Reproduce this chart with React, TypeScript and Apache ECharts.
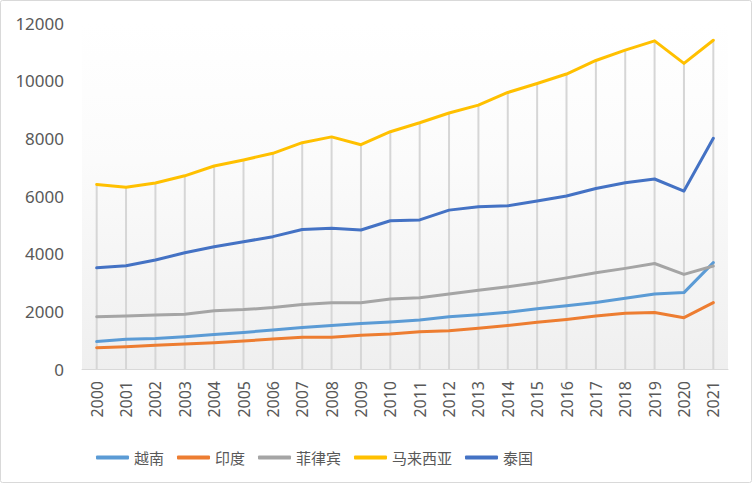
import React, { useEffect, useRef } from "react";
import * as echarts from "echarts";

const years = ["2000","2001","2002","2003","2004","2005","2006","2007","2008","2009","2010","2011","2012","2013","2014","2015","2016","2017","2018","2019","2020","2021"];
const vietnam = [950,1030,1060,1120,1200,1270,1350,1440,1510,1580,1630,1700,1810,1880,1970,2090,2190,2310,2450,2600,2650,3690];
const india = [740,770,820,870,910,970,1040,1100,1100,1170,1210,1290,1330,1410,1510,1620,1720,1840,1930,1960,1780,2300];
const philippines = [1810,1840,1870,1900,2020,2060,2130,2240,2300,2300,2430,2470,2600,2730,2850,2990,3160,3340,3490,3660,3280,3570];
const malaysia = [6400,6300,6450,6700,7040,7250,7480,7850,8050,7780,8230,8540,8880,9150,9590,9900,10230,10700,11060,11380,10600,11400];
const thailand = [3510,3580,3780,4030,4240,4410,4590,4840,4880,4820,5140,5170,5510,5630,5660,5830,6000,6260,6460,6590,6170,8000];

const names = ["越南", "印度", "菲律宾", "马来西亚", "泰国"];
const colors = ["#5B9BD5", "#ED7D31", "#A5A5A5", "#FFC000", "#4472C4"];
const seriesData = [vietnam, india, philippines, malaysia, thailand];

export default function App() {
  const ref = useRef<HTMLDivElement>(null);
  useEffect(() => {
    if (!ref.current) return;
    const chart = echarts.init(ref.current, null, { renderer: "svg" });
    const font = "'Noto Sans', 'Noto Sans CJK SC', sans-serif";
    chart.setOption({
      animation: false,
      backgroundColor: "#ffffff",
      graphic: [
        {
          type: "rect",
          shape: { x: 0.5, y: 0.5, width: 751, height: 482, r: 2 },
          style: { fill: "none", stroke: "#d9d9d9", lineWidth: 1 },
          silent: true,
        },
      ],
      grid: {
        left: 82,
        right: 24,
        top: 23,
        bottom: 114,
        show: true,
        borderWidth: 0,
        backgroundColor: {
          type: "linear",
          x: 0, y: 0, x2: 0, y2: 1,
          colorStops: [
            { offset: 0, color: "#ffffff" },
            { offset: 0.4, color: "#fbfbfb" },
            { offset: 1, color: "#efefef" },
          ],
        },
      },
      legend: {
        data: names.map((n) => ({ name: n, icon: "roundRect" })),
        left: 96,
        top: 450,
        padding: 0,
        itemWidth: 33,
        itemHeight: 4,
        itemGap: 13,
        textStyle: { color: "#595959", fontSize: 15, fontFamily: "'Noto Sans CJK SC', sans-serif" },
      },
      xAxis: {
        type: "category",
        data: years,
        boundaryGap: true,
        axisLine: { show: true, lineStyle: { color: "#d9d9d9", width: 1 } },
        axisTick: { show: false },
        splitLine: { show: false },
        axisLabel: {
          rotate: 90,
          margin: 12,
          color: "#595959",
          fontSize: 16,
          fontFamily: font,
          interval: 0,
        },
      },
      yAxis: {
        type: "value",
        min: 0,
        max: 12000,
        interval: 2000,
        axisLine: { show: false },
        axisTick: { show: false },
        splitLine: { show: false },
        axisLabel: {
          margin: 18,
          color: "#595959",
          fontSize: 17,
          fontFamily: font,
          formatter: (v: number) => String(v),
        },
      },
      series: [
        {
          name: "drop",
          type: "bar",
          data: malaysia,
          barWidth: 2,
          itemStyle: { color: "#d6d6d6" },
          silent: true,
          z: 1,
        },
        ...names.map((n, i) => ({
          name: n,
          type: "line",
          data: seriesData[i],
          symbol: "none",
          color: colors[i],
          itemStyle: { color: colors[i] },
          lineStyle: { color: colors[i], width: 3, cap: "round", join: "round" },
          z: 3,
        })),
      ],
    });
    return () => chart.dispose();
  }, []);
  return (
    <div
      ref={ref}
      style={{ position: "fixed", left: 0, top: 0, width: 752, height: 483 }}
    />
  );
}
